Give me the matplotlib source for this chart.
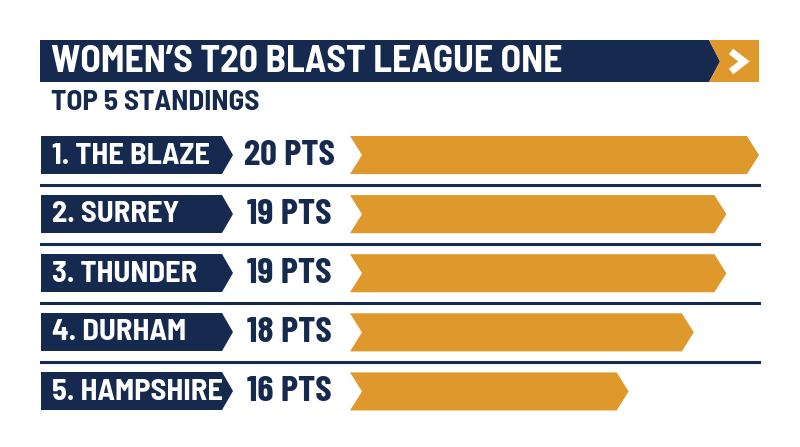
import matplotlib
matplotlib.use("Agg")
import matplotlib.pyplot as plt
from matplotlib.patches import Polygon
from matplotlib.lines import Line2D

title = "WOMEN\u2019S T20 BLAST LEAGUE ONE"
subtitle = "TOP 5 STANDINGS"
teams = ["THE BLAZE", "SURREY", "THUNDER", "DURHAM", "HAMPSHIRE"]
points = [20, 19, 19, 18, 16]

NAVY = "#16294F"
ORANGE = "#DF982B"
FONT = ["Barlow Semi Condensed", "DejaVu Sans"]
FONT_PTS = ["Barlow Condensed", "DejaVu Sans"]

fig = plt.figure(figsize=(8, 4.47), dpi=100)
fig.patch.set_facecolor("white")

# decoration axes in pixel coordinates
ax = fig.add_axes([0, 0, 1, 1])
ax.set_xlim(0, 800)
ax.set_ylim(447, 0)
ax.axis("off")

# header
ax.add_patch(Polygon([(40, 40), (709, 40), (720, 61.5), (709, 82), (40, 82)],
                     closed=True, facecolor=NAVY, edgecolor="none"))
ax.add_patch(Polygon([(709, 40), (759, 40), (759, 82), (709, 82), (720, 61.5)],
                     closed=True, facecolor=ORANGE, edgecolor="none"))
ax.add_line(Line2D([731, 744, 731], [51.5, 61.5, 71.5], color="white", lw=5,
                   solid_joinstyle="miter", solid_capstyle="butt"))
ax.text(51, 62, title, color="white", fontsize=27, fontweight="bold",
        family=FONT, va="center", ha="left")
ax.text(51, 102, subtitle, color=NAVY, fontsize=21, fontweight="bold",
        family=FONT, va="center", ha="left")

row_c0, row_dy, half_h = 155, 59, 19
n = len(teams)
for i, (t, p) in enumerate(zip(teams, points)):
    yc = row_c0 + row_dy * i
    ax.add_patch(Polygon([(41, yc - half_h), (222, yc - half_h), (233, yc),
                          (222, yc + half_h), (41, yc + half_h)],
                         closed=True, facecolor=NAVY, edgecolor="none"))
    ax.text(52, yc + 1, f"{i + 1}. {t}", color="white", fontsize=22,
            fontweight="bold", family=FONT, va="center", ha="left")
    ax.text(289, yc + 1, f"{p} PTS", color=NAVY, fontsize=26.5,
            fontweight="bold", family=FONT_PTS, va="center", ha="center")
    if i < n - 1:
        ys = yc + 29.5
        ax.add_line(Line2D([41, 759], [ys, ys], color=NAVY, lw=2.2))

# bar axes: x in points
bax = fig.add_axes([350 / 800, 1 - 421 / 447, 409 / 800, 295.5 / 447])
base = 7.45
bax.set_xlim(base, max(points))
bax.set_ylim(n - 0.5, -0.5)
bax.axis("off")
bax.patch.set_alpha(0)
hh = half_h / row_dy
tip = 12 / 32.6
for i, p in enumerate(points):
    bax.add_patch(Polygon([(base, i - hh), (p - tip, i - hh), (p, i),
                           (p - tip, i + hh), (base, i + hh), (base + tip, i)],
                          closed=True, facecolor=ORANGE, edgecolor="none",
                          clip_on=False))

fig.savefig("out.png", dpi=100, facecolor="white")
